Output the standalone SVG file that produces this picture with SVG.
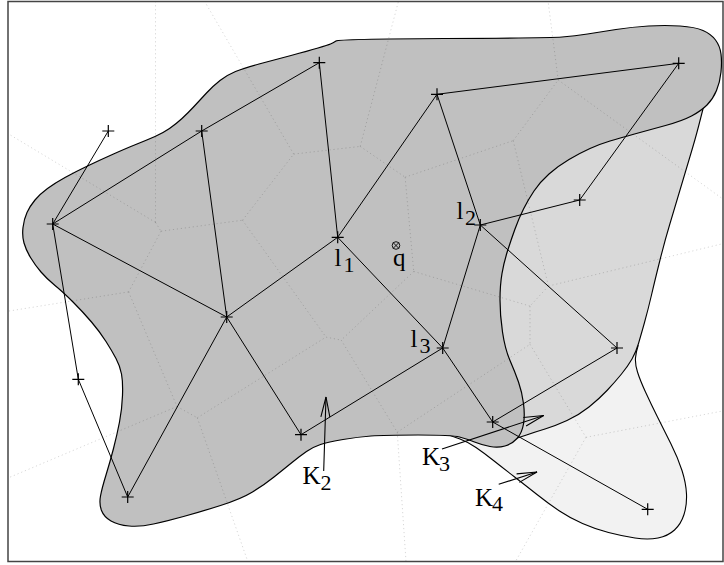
<svg xmlns="http://www.w3.org/2000/svg" width="724" height="565" viewBox="0 0 724 565">
<defs>
<style>
.k2{fill:#c0c0c0;stroke:#000;stroke-width:1.2}
.k3{fill:#d9d9d9;stroke:#000;stroke-width:1.1}
.k4{fill:#f2f2f2;stroke:#000;stroke-width:1.1}
.vor{fill:none;stroke:#000;stroke-opacity:0.16;stroke-width:1;stroke-dasharray:1.2 2.8}
.edge{fill:none;stroke:#000;stroke-width:1}
.cross{fill:none;stroke:#000;stroke-width:1.2}
.arr{fill:none;stroke:#000;stroke-width:1.1}
text{font-family:"Liberation Serif","Times New Roman",serif;font-size:25px;fill:#000}
.sub{font-size:22px}
</style>
<marker id="ah" viewBox="-22 -6 24 12" refX="0" refY="0" markerWidth="24" markerHeight="12" markerUnits="userSpaceOnUse" orient="auto">
<path d="M-20,-4.5 L0,0 L-20,4.5" fill="none" stroke="#000" stroke-width="1.1"/>
</marker>
</defs>
<rect x="0" y="0" width="724" height="565" fill="#fff"/>

<g id="K4">
<path class="k4" d="M440,432 Q452,436 460,439 Q468,442 476,447.5 Q484,453 493.5,460.5 Q503,468 514,476.5 Q525,485 537,494.5 Q549,504 559.5,511 Q570,518 582.5,523.5 Q595,529 608.5,532.5 Q622,536 635,538 Q648,540 658,538 Q668,536 674.5,530 Q681,524 684,514.5 Q687,505 686.5,494 Q686,483 682,470.5 Q678,458 671,444 Q664,430 657.5,417 Q651,404 645.5,392 Q640,380 637.5,372 Q635,364 635.5,358 Q636,352 638,346 L600,365 L480,410 Z"/>
</g>
<g id="K3">
<path class="k3" d="M704,105 Q702,113 698.5,126.5 Q695,140 690,156.5 Q685,173 680,190 Q675,207 670,223.5 Q665,240 660,260 Q655,280 651.5,295 Q648,310 644.5,322.5 Q641,335 638.5,343.5 Q636,352 632,359 Q628,366 621.5,374 Q615,382 607,390.5 Q599,399 589,407 Q579,415 567,420.5 Q555,426 545,429 Q535,432 526.5,435 Q518,438 510,440 L490,420 L470,200 L600,110 Z"/>
</g>
<g id="K2">
<path class="k2" d="M330.5,44 Q333,43 336,41 Q339,39 444,38.5 Q549,38 562,37 Q575,36 587.5,34 Q600,32 616,29.5 Q632,27 648.5,26 Q665,25 680,26 Q695,27 703,30.5 Q711,34 715.5,40 Q720,46 721,54 Q722,62 721,72 Q720,82 716.5,90.5 Q713,99 707,105 Q701,111 691.5,116 Q682,121 665.5,125.5 Q649,130 634.5,134 Q620,138 610,141 Q600,144 590,148.5 Q580,153 569,159.5 Q558,166 549,174 Q540,182 534,191 Q528,200 523.5,209 Q519,218 515,229 Q511,240 507.5,251 Q504,262 502,273.5 Q500,285 500,300 Q500,315 502.5,332 Q505,349 510,360.5 Q515,372 518.5,382 Q522,392 523.5,403.5 Q525,415 523.5,424 Q522,433 517,438.5 Q512,444 505,446 Q498,448 490,446.5 Q482,445 474.5,442 Q467,439 459.5,437 Q452,435 418,435 Q384,435 371,436 Q358,437 343,439.5 Q328,442 320.5,444.5 Q313,447 306.5,451.5 Q300,456 292,462.5 Q284,469 274,477 Q264,485 252.5,492 Q241,499 220.5,505.5 Q200,512 183.5,516.5 Q167,521 153.5,524 Q140,527 129,526 Q118,525 111,521 Q104,517 101.5,510.5 Q99,504 100.5,496 Q102,488 106,475 Q110,462 113.5,448.5 Q117,435 119.5,422 Q122,409 122.5,395.5 Q123,382 121.5,374 Q120,366 116,358.5 Q112,351 106,341.5 Q100,332 91.5,322 Q83,312 73,302 Q63,292 55,285.5 Q47,279 41,272 Q35,265 30.5,257.5 Q26,250 24,243 Q22,236 23,227.5 Q24,219 27,212.5 Q30,206 35,200 Q40,194 47.5,188.5 Q55,183 65,177.5 Q75,172 87.5,166 Q100,160 113.5,154 Q127,148 137,144 Q147,140 155,136.5 Q163,133 169.5,128.5 Q176,124 182,118.5 Q188,113 194,106.5 Q200,100 206.5,93 Q213,86 220,80.5 Q227,75 235.5,71.5 Q244,68 259,64 Q274,60 291,55.5 Q308,51 318,48 Q328,45 330.5,44 Z"/>
</g>

<g id="voronoi" class="vor">
<path d="M155.5,222.4 L155.5,1.5 M155.5,222.4 L8,133.6 M155.5,222.4 L161,231.2 M161,231.2 L242.5,220.2 M161,231.2 L128.6,291.9 M128.6,291.9 L8,311.2 M128.6,291.9 L177,406.5 M177,406.5 L8,478 M177,406.5 L197.3,417.8 M197.3,417.8 L247.8,561.5 M197.3,417.8 L326,337.1 M242.5,220.2 L326,337.1 M242.5,220.2 L293.7,154.1 M293.7,154.1 L204.7,1.5 M293.7,154.1 L360.2,146.4 M360.2,146.4 L398.4,1.5 M360.2,146.4 L405.1,177.2 M405.1,177.2 L413.75,271.45 M405.1,177.2 L513.2,140.65 M513.2,140.65 L558.2,80 M558.2,80 L548.1,1.5 M558.2,80 L723,199.1 M513.2,140.65 L548.45,286.05 M548.45,286.05 L723,243.6 M548.45,286.05 L530,306.1 M413.75,271.45 L530,306.1 M413.75,271.45 L341.2,340.1 M326,337.1 L341.2,340.1 M341.2,340.1 L397.25,432.2 M530,306.1 L530,344.3 M397.25,432.2 L530,344.3 M530,344.3 L585.95,437.3 M585.95,437.3 L723,410.9 M585.95,437.3 L515.5,561.5 M397.25,432.2 L406,561.5"/>
</g>

<g id="edges" class="edge">
<path d="M108.3,131 L52.7,224"/>
<path d="M52.7,224 L201.7,131"/>
<path d="M201.7,131 L319.3,62.7"/>
<path d="M52.7,224 L226.7,317"/>
<path d="M52.7,224 L78.3,379.3"/>
<path d="M78.3,379.3 L127.7,497"/>
<path d="M127.7,497 L226.7,317"/>
<path d="M201.7,131 L226.7,317"/>
<path d="M319.3,62.7 L337.7,237.3"/>
<path d="M226.7,317 L337.7,237.3"/>
<path d="M226.7,317 L301,434.7"/>
<path d="M337.7,237.3 L437,94.3"/>
<path d="M337.7,237.3 L442.7,348"/>
<path d="M301,434.7 L442.7,348"/>
<path d="M437,94.3 L480.3,225"/>
<path d="M437,94.3 L678.7,63.3"/>
<path d="M678.7,63.3 L579.7,200"/>
<path d="M579.7,200 L480.3,225"/>
<path d="M480.3,225 L442.7,348"/>
<path d="M480.3,225 L617,348"/>
<path d="M617,348 L492.7,422"/>
<path d="M442.7,348 L492.7,422"/>
<path d="M492.7,422 L647.7,509.3"/>
</g>

<g id="nA"><path class="cross" d="M313.3,62.7h12M319.3,56.7v12"/></g>
<g id="nB"><path class="cross" d="M431,94.3h12M437,88.3v12"/></g>
<g id="nC"><path class="cross" d="M672.7,63.3h12M678.7,57.3v12"/></g>
<g id="nD"><path class="cross" d="M102.3,131h12M108.3,125v12"/></g>
<g id="nE"><path class="cross" d="M195.7,131h12M201.7,125v12"/></g>
<g id="nF"><path class="cross" d="M46.7,224h12M52.7,218v12"/></g>
<g id="nG"><path class="cross" d="M331.7,237.3h12M337.7,231.3v12"/>
<text><tspan x="334.5" y="265.5">l</tspan><tspan class="sub" x="343.5" y="271.5">1</tspan></text></g>
<g id="nH"><path class="cross" d="M474.3,225h12M480.3,219v12"/>
<text><tspan x="456.5" y="219">l</tspan><tspan class="sub" x="465" y="225">2</tspan></text></g>
<g id="nI"><path class="cross" d="M573.7,200h12M579.7,194v12"/></g>
<g id="nJ"><path class="cross" d="M220.7,317h12M226.7,311v12"/></g>
<g id="nK"><path class="cross" d="M436.7,348h12M442.7,342v12"/>
<text><tspan x="410.5" y="347">l</tspan><tspan class="sub" x="419.5" y="352.5">3</tspan></text></g>
<g id="nL"><path class="cross" d="M611,348h12M617,342v12"/></g>
<g id="nM"><path class="cross" d="M72.3,379.3h12M78.3,373.3v12"/></g>
<g id="nN"><path class="cross" d="M295,434.7h12M301,428.7v12"/></g>
<g id="nO"><path class="cross" d="M486.7,422h12M492.7,416v12"/></g>
<g id="nP"><path class="cross" d="M121.7,497h12M127.7,491v12"/></g>
<g id="nQ"><path class="cross" d="M641.7,509.3h12M647.7,503.3v12"/></g>

<g id="query">
<circle cx="396" cy="245.5" r="3.8" fill="none" stroke="#000" stroke-width="0.9"/>
<path d="M393.3,242.8 L398.7,248.2 M398.7,242.8 L393.3,248.2" stroke="#000" stroke-width="0.9"/>
<text x="393" y="266">q</text>
</g>

<g id="labels">
<path class="arr" d="M323.7,471 L326,397" marker-end="url(#ah)"/>
<text><tspan x="302.5" y="483.7">K</tspan><tspan class="sub" x="320.5" y="490.3">2</tspan></text>
<path class="arr" d="M442,449 L543.7,415.5" marker-end="url(#ah)"/>
<text><tspan x="422" y="465.3">K</tspan><tspan class="sub" x="439" y="471">3</tspan></text>
<path class="arr" d="M498.7,484.3 L537,472" marker-end="url(#ah)"/>
<text><tspan x="475" y="506">K</tspan><tspan class="sub" x="492" y="511">4</tspan></text>
</g>

<rect x="8" y="1.5" width="715" height="560" fill="none" stroke="#444" stroke-width="1.5"/>
</svg>
